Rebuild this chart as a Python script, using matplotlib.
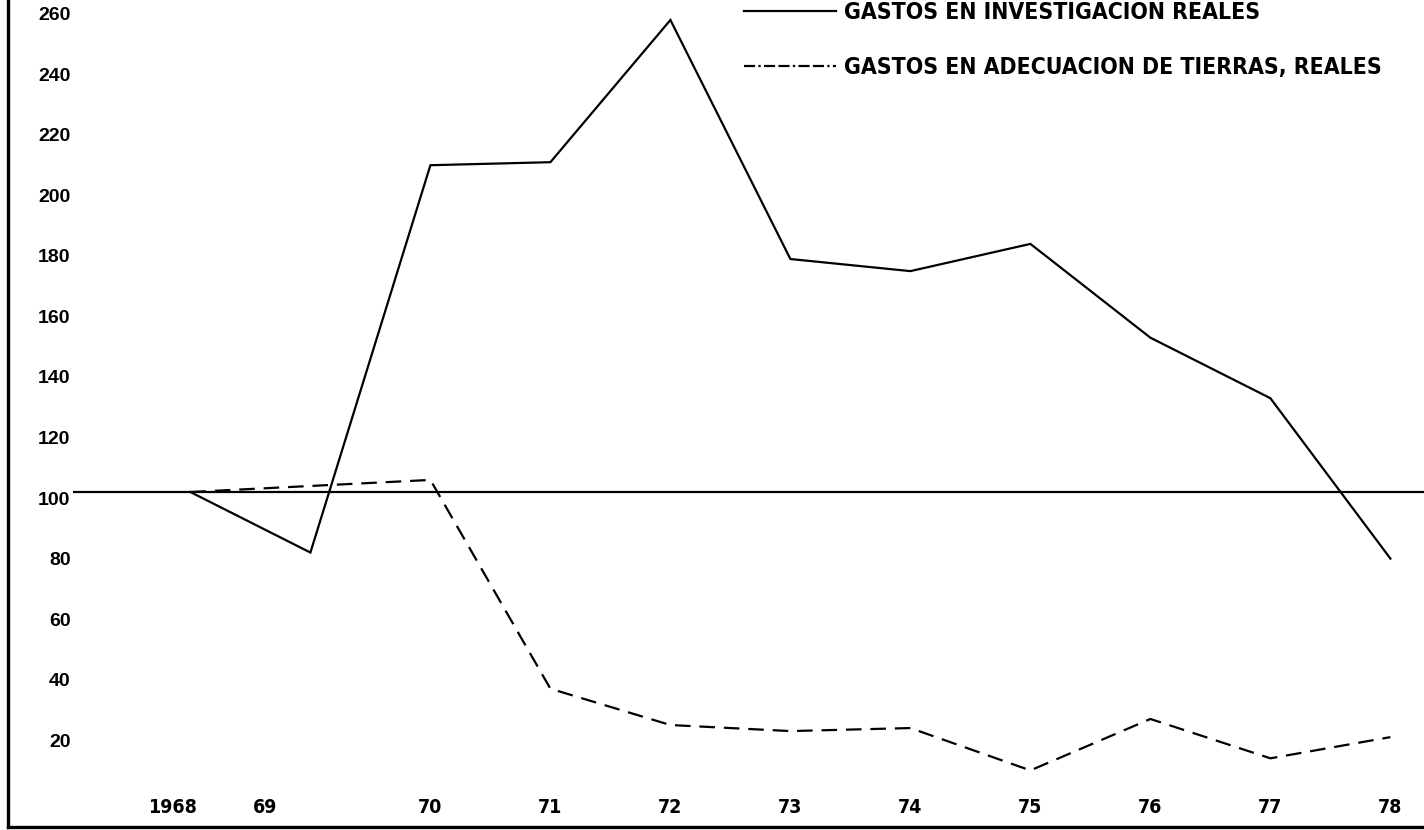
import matplotlib
matplotlib.use('Agg')
import matplotlib.pyplot as plt
import matplotlib.transforms as mtransforms
from matplotlib.lines import Line2D
from matplotlib import font_manager

years = [1968, 1969, 1970, 1971, 1972, 1973, 1974, 1975, 1976, 1977, 1978]
year_labels = ['1968', '69', '70', '71', '72', '73', '74', '75', '76', '77', '78']
# gastos en investigacion, reales (1968 = 100)
investigacion = [100, 80, 208, 209, 256, 177, 173, 182, 151, 131, 78]
# gastos en adecuacion de tierras, reales (1968 = 100)
tierras = [100, 102, 104, 35, 23, 21, 22, 8, 25, 12, 19]
y_ticks = [20, 40, 60, 80, 100, 120, 140, 160, 180, 200, 220, 240, 260]

label_solid = 'GASTOS EN INVESTIGACION REALES'
label_dash = 'GASTOS EN ADECUACION DE TIERRAS, REALES'

# look for a condensed face, the scan uses a narrow grotesque
narrow = None
for fam, stretch in [('Liberation Sans Narrow', 'normal'), ('DejaVu Sans', 'condensed')]:
    fp = font_manager.FontProperties(family=fam, stretch=stretch, weight='bold')
    try:
        path = font_manager.findfont(fp, fallback_to_default=False)
    except Exception:
        path = ''
    if 'Narrow' in path or 'Condensed' in path:
        narrow = dict(family=fam, stretch=stretch)
        break
if narrow is None:
    narrow = dict(family='Liberation Sans', stretch='normal')
    leg_size = 14
else:
    leg_size = 16.5

fig = plt.figure(figsize=(14.24, 8.30), dpi=100)
ax = fig.add_axes([8 / 1424, 3 / 830, 1 - 8 / 1424, 1 - 3 / 830])

ax.plot(years, investigacion, color='black', lw=1.6, solid_joinstyle='miter')
ax.plot(years, tierras, color='black', lw=1.6, linestyle=(0, (7, 4)))
ax.hlines(100, years[0] - 0.98, 1978.3, color='black', lw=1.6)

ax.set_xlim(1966.48, 1978.28)
ax.set_ylim(-10.7, 262.6)

for s in ['top', 'right']:
    ax.spines[s].set_visible(False)
ax.spines['left'].set_linewidth(2.4)
ax.spines['bottom'].set_linewidth(2.4)

ax.set_yticks(y_ticks)
ax.set_yticklabels([str(v) for v in y_ticks])
ax.tick_params(axis='y', length=0, pad=-45)
for lab in ax.get_yticklabels():
    lab.set_fontsize(14)
    lab.set_fontweight('bold')
    lab.set_family(['Liberation Sans', 'DejaVu Sans'])
    lab.set_transform(lab.get_transform() +
                      mtransforms.ScaledTranslation(0, -6 / 100, fig.dpi_scale_trans))

ax.set_xticks(years)
ax.set_xticklabels(year_labels)
ax.tick_params(axis='x', length=0, pad=-21)
for lab in ax.get_xticklabels():
    lab.set_fontsize(14)
    lab.set_fontweight('bold')
    lab.set_family(narrow['family'])
    lab.set_fontstretch(narrow['stretch'])
ax.get_xticklabels()[0].set_transform(
    ax.get_xticklabels()[0].get_transform() +
    mtransforms.ScaledTranslation(-18 / 100, 0, fig.dpi_scale_trans))
ax.get_xticklabels()[1].set_transform(
    ax.get_xticklabels()[1].get_transform() +
    mtransforms.ScaledTranslation(-45 / 100, 0, fig.dpi_scale_trans))

fs_px = leg_size * 100 / 72
handles = [Line2D([], [], color='black', lw=1.6),
           Line2D([], [], color='black', lw=1.6,
                  linestyle=(0, (5, 1.5, 1, 1.5, 5, 1.5)))]
leg = ax.legend(handles, [label_solid, label_dash], loc='upper left',
                bbox_to_anchor=(744 / 1424, 0.999), bbox_transform=fig.transFigure,
                frameon=False, handlelength=92 / fs_px, handletextpad=8 / fs_px,
                labelspacing=(55 - fs_px) / fs_px,
                borderpad=0, borderaxespad=0,
                prop=font_manager.FontProperties(family=narrow['family'],
                                                 stretch=narrow['stretch'],
                                                 weight='bold', size=leg_size))

fig.savefig('out.png', dpi=100)
